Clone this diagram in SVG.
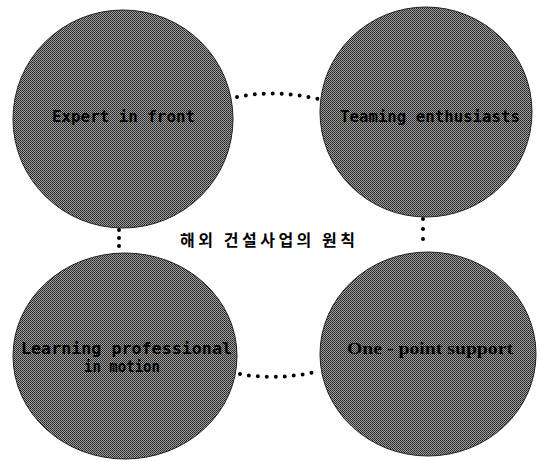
<svg xmlns="http://www.w3.org/2000/svg" width="540" height="461" viewBox="0 0 540 461">
<defs>
<pattern id="dither" patternUnits="userSpaceOnUse" width="2" height="2">
<rect width="2" height="2" fill="#a0a0a0"/>
<rect width="1" height="1" fill="#222"/>
<rect x="1" y="1" width="1" height="1" fill="#333"/>
</pattern>
<style>
.node{fill:url(#dither);stroke:#222;stroke-width:1}
.lbl{font-family:"DejaVu Sans Mono","Liberation Mono",monospace;font-weight:bold;font-size:15px;fill:#000}
.ser{font-family:"Liberation Serif",serif;font-weight:bold;font-size:16px;fill:#000}
.dots{fill:none;stroke:#000;stroke-width:4;stroke-linecap:round}
.title{font-family:"Noto Sans CJK KR","Noto Sans",sans-serif;font-weight:bold;font-size:16px;fill:#000}
</style>
</defs>
<rect width="540" height="461" fill="#fff"/>
<g id="expert">
<ellipse class="node" cx="123" cy="119" rx="110" ry="109"/>
<text class="lbl" x="52" y="122" textLength="143" lengthAdjust="spacingAndGlyphs">Expert in front</text>
</g>
<g id="teaming">
<ellipse class="node" cx="426" cy="112" rx="106" ry="105"/>
<text class="lbl" x="340" y="122" textLength="180" lengthAdjust="spacingAndGlyphs">Teaming enthusiasts</text>
</g>
<g id="learning">
<ellipse class="node" cx="125" cy="356" rx="112" ry="103"/>
<text class="lbl" x="21" y="354" textLength="211" lengthAdjust="spacingAndGlyphs">Learning professional</text>
<text class="lbl" x="84" y="372" textLength="76" lengthAdjust="spacingAndGlyphs">in motion</text>
</g>
<g id="onepoint">
<ellipse class="node" cx="428" cy="354" rx="108" ry="102"/>
<text class="ser" x="347" y="354" textLength="166" lengthAdjust="spacingAndGlyphs">One - point support</text>
</g>
<g id="connectors">
<path class="dots" stroke-dasharray="0 9" d="M237,97 Q275,89 318,99"/>
<path class="dots" stroke-dasharray="0 9" d="M240,374 Q277,381 320,371"/>
<path class="dots" stroke-dasharray="0 8" d="M119,230 L119,254"/>
<path class="dots" stroke-dasharray="0 10" d="M423,219 L423,249"/>
</g>
<g id="title">
<text class="title" x="180" y="246" textLength="175" lengthAdjust="spacing">해외 건설사업의 원칙</text>
</g>
</svg>
